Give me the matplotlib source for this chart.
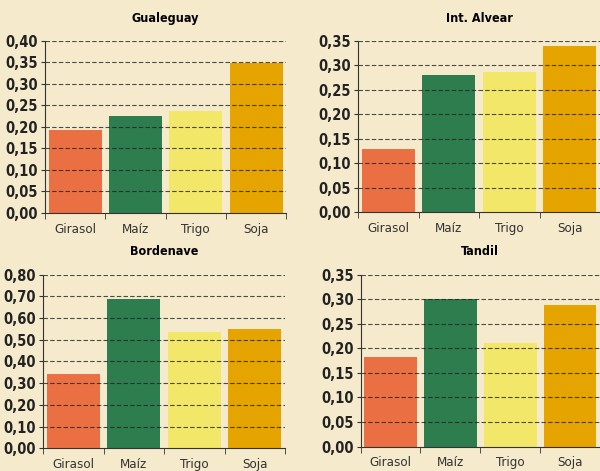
import matplotlib.pyplot as plt
import numpy as np

cultivos = ['Girasol', 'Maíz', 'Trigo', 'Soja']
colores = ['#EA7044', '#2E7D4F', '#F2E768', '#E6A400']

gualeguay = [0.192, 0.225, 0.237, 0.349]
alvear = [0.129, 0.280, 0.287, 0.340]
bordenave = [0.342, 0.688, 0.536, 0.550]
tandil = [0.182, 0.300, 0.211, 0.288]

paneles = [
    ('Gualeguay', gualeguay, np.arange(0, 0.401, 0.05), [0.075, 0.548, 0.402, 0.365]),
    ('Int. Alvear', alvear, np.arange(0, 0.351, 0.05), [0.597, 0.549, 0.403, 0.364]),
    ('Bordenave', bordenave, np.arange(0, 0.801, 0.10), [0.072, 0.048, 0.403, 0.369]),
    ('Tandil', tandil, np.arange(0, 0.351, 0.05), [0.601, 0.052, 0.399, 0.365]),
]

plt.rcParams['font.family'] = ['DejaVu Sans']
plt.rcParams['font.stretch'] = 'condensed'

fondo = '#F6EACC'
fig = plt.figure(figsize=(6, 4.71), dpi=100, facecolor=fondo)

for titulo, vals, yt, pos in paneles:
    ax = fig.add_axes(pos)
    ax.set_facecolor(fondo)
    x = np.arange(len(cultivos))
    ax.bar(x, vals, width=0.88, color=colores, zorder=1)
    ax.set_xlim(-0.5, 3.5)
    ax.set_ylim(0, yt[-1])
    ax.set_yticks(yt)
    ax.set_yticklabels([('%.2f' % v).replace('.', ',') for v in yt], fontweight='bold',
                       fontsize=10.5, color='#222222')
    ax.set_xticks(x)
    ax.set_xticklabels(cultivos, fontsize=9.5, color='#333333')
    ax.set_xticks(np.arange(-0.5, 4, 1), minor=True)
    ax.tick_params(axis='x', which='major', length=0, pad=7)
    ax.tick_params(axis='x', which='minor', length=4, color='#333333')
    ax.tick_params(axis='y', length=3, color='#333333', pad=2)
    # lineas punteadas por encima de las barras
    for yy in yt[1:]:
        ax.axhline(yy, color='#222222', linestyle=(0, (4, 2)), linewidth=0.8, alpha=0.8, zorder=2)
    for s in ['top', 'right']:
        ax.spines[s].set_visible(False)
    ax.spines['left'].set_color('#333333')
    ax.spines['bottom'].set_color('#333333')
    ax.set_title(titulo, fontweight='bold', fontsize=9, pad=14)

plt.savefig('out.png', dpi=100, facecolor=fondo)
